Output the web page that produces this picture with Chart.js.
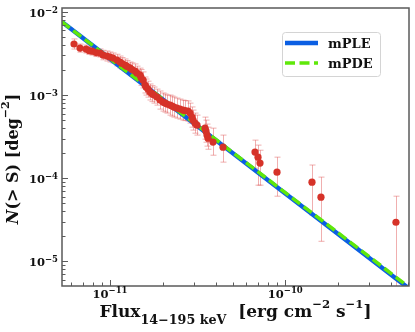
<!DOCTYPE html>
<html>
<head>
<meta charset="utf-8">
<script src="https://cdn.jsdelivr.net/npm/chart.js@4.4.1/dist/chart.umd.min.js"></script>
<style>
  html, body { margin: 0; padding: 0; background: #fff; }
  canvas { display: block; }
</style>
</head>
<body>
<canvas id="logNlogS" width="415" height="332"></canvas>
<script>
// observed cumulative counts N(>S) with upper / lower error values
const fluxObs = [6.23e-12, 6.74e-12, 7.30e-12, 7.59e-12, 7.90e-12, 8.32e-12, 8.77e-12, 9.12e-12,
  9.61e-12, 1.00e-11, 1.04e-11, 1.096e-11, 1.14e-11, 1.171e-11, 1.218e-11, 1.25e-11,
  1.30e-11, 1.335e-11, 1.389e-11, 1.426e-11, 1.483e-11, 1.502e-11, 1.543e-11, 1.584e-11,
  1.605e-11, 1.647e-11, 1.691e-11, 1.737e-11, 1.782e-11, 1.853e-11, 1.928e-11, 2.006e-11,
  2.059e-11, 2.114e-11, 2.199e-11, 2.258e-11, 2.317e-11, 2.41e-11, 2.507e-11, 2.609e-11,
  2.678e-11, 2.786e-11, 2.86e-11, 2.936e-11, 2.975e-11, 3.054e-11, 3.135e-11, 3.482e-11,
  3.528e-11, 3.574e-11, 3.622e-11, 3.869e-11, 4.412e-11, 6.716e-11, 6.987e-11, 7.173e-11,
  8.968e-11, 1.42e-10, 1.598e-10, 4.28e-10];
const nObs = [4.12e-3, 3.68e-3, 3.58e-3, 3.44e-3, 3.39e-3, 3.25e-3, 3.21e-3, 3.03e-3,
  2.95e-3, 2.87e-3, 2.79e-3, 2.64e-3, 2.50e-3, 2.40e-3, 2.30e-3, 2.21e-3,
  2.12e-3, 2.03e-3, 1.95e-3, 1.84e-3, 1.74e-3, 1.63e-3, 1.52e-3, 1.32e-3,
  1.25e-3, 1.18e-3, 1.09e-3, 1.04e-3, 1.00e-3, 9.46e-4, 8.71e-4, 8.24e-4,
  8.01e-4, 7.79e-4, 7.58e-4, 7.37e-4, 7.17e-4, 6.97e-4, 6.78e-4, 6.60e-4,
  6.51e-4, 6.42e-4, 6.07e-4, 5.43e-4, 5.00e-4, 4.60e-4, 4.35e-4, 4.00e-4,
  3.68e-4, 3.30e-4, 3.03e-4, 2.72e-4, 2.36e-4, 2.06e-4, 1.79e-4, 1.52e-4,
  1.18e-4, 8.95e-5, 5.90e-5, 2.95e-5];
const nObsHi = [4.74e-3, 4.11e-3, 4.00e-3, 3.84e-3, 3.79e-3, 3.63e-3, 3.59e-3, 3.46e-3,
  3.39e-3, 3.30e-3, 3.21e-3, 3.10e-3, 2.95e-3, 2.83e-3, 2.72e-3, 2.61e-3,
  2.50e-3, 2.44e-3, 2.37e-3, 2.23e-3, 2.11e-3, 2.03e-3, 1.90e-3, 1.65e-3,
  1.56e-3, 1.47e-3, 1.36e-3, 1.30e-3, 1.25e-3, 1.18e-3, 1.12e-3, 1.06e-3,
  1.03e-3, 1.00e-3, 1.00e-3, 9.73e-4, 9.46e-4, 9.2e-4, 8.95e-4, 8.7e-4,
  8.6e-4, 8.5e-4, 8.0e-4, 7.2e-4, 6.6e-4, 6.07e-4, 5.74e-4, 5.43e-4,
  5.0e-4, 4.48e-4, 4.11e-4, 4.00e-4, 3.30e-4, 2.87e-4, 2.50e-4, 2.17e-4,
  1.79e-4, 1.44e-4, 1.03e-4, 6.07e-5];
const nObsLo = [3.58e-3, 3.29e-3, 3.21e-3, 3.08e-3, 3.03e-3, 2.91e-3, 2.87e-3, 2.66e-3,
  2.57e-3, 2.50e-3, 2.43e-3, 2.25e-3, 2.12e-3, 2.03e-3, 1.95e-3, 1.87e-3,
  1.80e-3, 1.69e-3, 1.61e-3, 1.52e-3, 1.43e-3, 1.31e-3, 1.22e-3, 1.06e-3,
  1.00e-3, 9.45e-4, 8.73e-4, 8.34e-4, 8.0e-4, 7.57e-4, 6.78e-4, 6.42e-4,
  6.24e-4, 6.07e-4, 5.74e-4, 5.58e-4, 5.43e-4, 5.28e-4, 5.14e-4, 5.0e-4,
  4.93e-4, 4.86e-4, 4.6e-4, 4.11e-4, 3.79e-4, 3.48e-4, 3.30e-4, 2.95e-4,
  2.71e-4, 2.43e-4, 2.23e-4, 1.89e-4, 1.56e-4, 1.32e-4, 8.24e-5, 8.24e-5,
  6.07e-5, 3.6e-5, 1.74e-5, 1e-6];

// model curves
const fluxModel = [5.3e-12, 1e-11, 2e-11, 5e-11, 1e-10, 2e-10, 5.1e-10];
const nPLE = [7.64e-3, 2.73e-3, 8.87e-4, 2.01e-4, 6.54e-5, 2.13e-5, 4.67e-6];
const nPDE = [7.64e-3, 2.74e-3, 8.95e-4, 2.05e-4, 6.70e-5, 2.20e-5, 4.85e-6];

// axes
const xMin = 5.32e-12, xMax = 5.08e-10;
const yMin = 5.04e-6, yMax = 1.117e-2;
const xMajor = [1e-11, 1e-10];
const xMajorLabels = [['10', '−11'], ['10', '−10']];
const xMinor = [6e-12, 7e-12, 8e-12, 9e-12, 2e-11, 3e-11, 4e-11, 5e-11, 6e-11, 7e-11, 8e-11, 9e-11,
  2e-10, 3e-10, 4e-10, 5e-10];
const yMajor = [1e-5, 1e-4, 1e-3, 1e-2];
const yMajorLabels = [['10', '−5'], ['10', '−4'], ['10', '−3'], ['10', '−2']];
const yMinor = [6e-6, 7e-6, 8e-6, 9e-6, 2e-5, 3e-5, 4e-5, 5e-5, 6e-5, 7e-5, 8e-5, 9e-5,
  2e-4, 3e-4, 4e-4, 5e-4, 6e-4, 7e-4, 8e-4, 9e-4, 2e-3, 3e-3, 4e-3, 5e-3, 6e-3, 7e-3, 8e-3, 9e-3];

const SERIF = '"DejaVu Serif", serif';
const f = (size, style) => (style || 'bold') + ' ' + size + 'px ' + SERIF;

// draw a run of [text, font, dy] pieces starting at x
function drawPieces(ctx, pieces, x, y) {
  pieces.forEach(([t, font, dy]) => {
    ctx.font = font;
    ctx.fillText(t, x, y + dy);
    x += ctx.measureText(t).width;
  });
}
function piecesWidth(ctx, pieces) {
  return pieces.reduce((w, [t, font]) => { ctx.font = font; return w + ctx.measureText(t).width; }, 0);
}

const errorBars = {
  id: 'errorBars',
  beforeDatasetsDraw(chart) {
    const {ctx, chartArea: a, scales: {x, y}} = chart;
    ctx.save();
    ctx.beginPath();
    ctx.rect(a.left, a.top, a.right - a.left, a.bottom - a.top);
    ctx.clip();
    ctx.strokeStyle = 'rgba(225, 95, 95, 0.5)';
    ctx.lineWidth = 1;
    fluxObs.forEach((v, i) => {
      const px = Math.round(x.getPixelForValue(v)) + 0.5;
      const hi = y.getPixelForValue(nObsHi[i]);
      const lo = y.getPixelForValue(nObsLo[i]);
      ctx.beginPath();
      ctx.moveTo(px, hi); ctx.lineTo(px, lo);
      ctx.moveTo(px - 3, hi); ctx.lineTo(px + 3, hi);
      ctx.moveTo(px - 3, lo); ctx.lineTo(px + 3, lo);
      ctx.stroke();
    });
    ctx.restore();
  }
};

const axesFrame = {
  id: 'axesFrame',
  afterDraw(chart) {
    const {ctx, chartArea: a, scales: {x, y}} = chart;
    ctx.save();
    ctx.strokeStyle = '#5a5a5a';
    ctx.lineWidth = 1.5;
    ctx.strokeRect(a.left, a.top, a.right - a.left, a.bottom - a.top);

    // inward ticks
    ctx.lineWidth = 1;
    ctx.beginPath();
    xMajor.forEach(v => { const p = Math.round(x.getPixelForValue(v)) + 0.5; ctx.moveTo(p, a.bottom); ctx.lineTo(p, a.bottom - 6); });
    xMinor.forEach(v => { const p = Math.round(x.getPixelForValue(v)) + 0.5; ctx.moveTo(p, a.bottom); ctx.lineTo(p, a.bottom - 3.5); });
    yMajor.forEach(v => { const p = Math.round(y.getPixelForValue(v)) + 0.5; ctx.moveTo(a.left, p); ctx.lineTo(a.left + 6, p); });
    yMinor.forEach(v => { const p = Math.round(y.getPixelForValue(v)) + 0.5; ctx.moveTo(a.left, p); ctx.lineTo(a.left + 3.5, p); });
    ctx.stroke();

    // tick labels
    ctx.fillStyle = '#111';
    ctx.textBaseline = 'alphabetic';
    ctx.textAlign = 'left';
    xMajor.forEach((v, i) => {
      const [b, e] = xMajorLabels[i];
      const pieces = [[b, f(11.5), 0], [e, f(8.5), -4.6]];
      const w = piecesWidth(ctx, pieces);
      drawPieces(ctx, pieces, x.getPixelForValue(v) - w / 2, a.bottom + 11.5);
    });
    yMajor.forEach((v, i) => {
      const [b, e] = yMajorLabels[i];
      const pieces = [[b, f(11.5), 0], [e, f(8.5), -3.5]];
      const w = piecesWidth(ctx, pieces);
      drawPieces(ctx, pieces, a.left - 4 - w, y.getPixelForValue(v) + 4.6);
    });

    // axis titles
    const xt = [['Flux', f(17), 0], ['14−195 keV', f(12.7), 7], ['  [erg cm', f(17), 0], ['−2', f(11.7), -9.5],
      [' s', f(17), 0], ['−1', f(11.7), -9.5], [']', f(17), 0]];
    const xw = piecesWidth(ctx, xt);
    drawPieces(ctx, xt, (a.left + a.right) / 2 - xw / 2, 317);

    const yt = [['N', f(16, 'italic bold'), 0], ['(> S) [deg', f(16), 0], ['−2', f(11), -9], [']', f(16), 0]];
    const yw = piecesWidth(ctx, yt);
    ctx.save();
    ctx.translate(18, (a.top + a.bottom) / 2 + 12);
    ctx.rotate(-Math.PI / 2);
    drawPieces(ctx, yt, -yw / 2, 0);
    ctx.restore();

    // legend box
    const lx = 282, ly = 32, lw = 98, lh = 44;
    ctx.beginPath();
    ctx.roundRect(lx + 0.5, ly + 0.5, lw, lh, 3);
    ctx.fillStyle = 'rgba(255,255,255,0.85)';
    ctx.fill();
    ctx.strokeStyle = '#d4d4d4';
    ctx.lineWidth = 1;
    ctx.stroke();
    const models = chart.data.datasets.filter(d => d.showLine);
    models.forEach((d, i) => {
      const yy = 43 + i * 20;
      ctx.beginPath();
      ctx.setLineDash(d.borderDash || []);
      ctx.strokeStyle = d.borderColor;
      ctx.lineWidth = d.borderWidth;
      ctx.moveTo(285, yy); ctx.lineTo(318, yy);
      ctx.stroke();
      ctx.setLineDash([]);
      ctx.fillStyle = '#111';
      ctx.font = f(13);
      ctx.fillText(d.label, 328, yy + 5.3);
    });
    ctx.restore();
  }
};

new Chart(document.getElementById('logNlogS'), {
  type: 'scatter',
  data: {
    datasets: [
      {
        label: 'data',
        data: fluxObs.map((v, i) => ({x: v, y: nObs[i]})),
        backgroundColor: '#d63228',
        borderColor: '#d63228',
        borderWidth: 0,
        pointRadius: 3.6,
        order: 0,
      },
      {
        label: 'mPLE',
        data: fluxModel.map((v, i) => ({x: v, y: nPLE[i]})),
        showLine: true,
        borderColor: '#0b5fe3',
        borderWidth: 4.5,
        pointRadius: 0,
        clip: 0,
        order: 2,
      },
      {
        label: 'mPDE',
        data: fluxModel.map((v, i) => ({x: v, y: nPDE[i]})),
        showLine: true,
        borderColor: '#5fe80a',
        borderWidth: 3.5,
        borderDash: [10, 4.5],
        pointRadius: 0,
        clip: 0,
        order: 1,
      },
    ],
  },
  options: {
    responsive: false,
    animation: false,
    layout: {
      padding: {left: 62, top: 8, right: 6, bottom: 46},
    },
    scales: {
      x: {type: 'logarithmic', min: xMin, max: xMax, display: false},
      y: {type: 'logarithmic', min: yMin, max: yMax, display: false},
    },
    plugins: {
      legend: {display: false},
      tooltip: {enabled: false},
    },
  },
  plugins: [errorBars, axesFrame],
});
</script>
</body>
</html>
